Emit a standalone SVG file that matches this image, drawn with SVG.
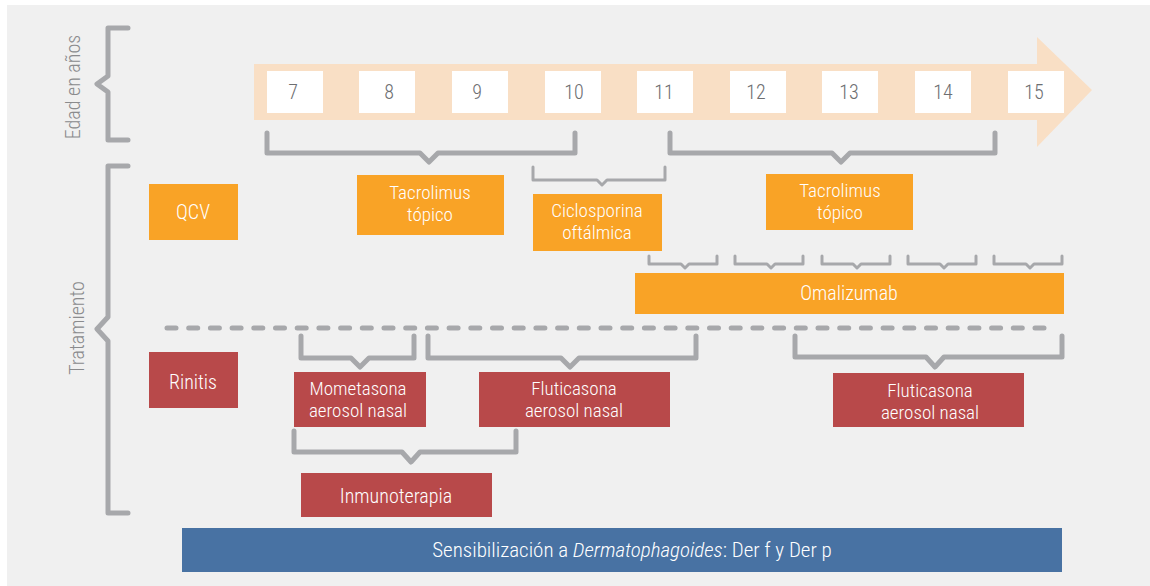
<svg xmlns="http://www.w3.org/2000/svg" width="1150" height="586" viewBox="0 0 1150 586">
<style>
.t{font-family:"Liberation Sans Narrow","Roboto Condensed","DejaVu Sans Condensed",sans-serif;font-weight:300;}
.w{fill:#ffffff;font-size:20px;text-anchor:middle;}
.w2{fill:#ffffff;font-size:19px;text-anchor:middle;}
.wb{fill:#ffffff;font-size:21px;text-anchor:middle;}
.num{fill:#6d6e71;font-size:20px;text-anchor:middle;}
.ax{fill:#8a8b8d;font-size:20px;text-anchor:middle;}
.or{fill:#f9a326;}
.rd{fill:#b8494a;}
.bx{fill:#ffffff;}
.br{fill:none;stroke:#a7a8ab;stroke-width:5;stroke-linejoin:round;stroke-linecap:round;}
.bt{fill:none;stroke:#a7a8ab;stroke-width:3;stroke-linejoin:round;stroke-linecap:round;}
</style>
<rect x="0" y="0" width="1150" height="586" fill="#ffffff"/>
<rect x="7" y="5" width="1143" height="581" fill="#f0f0f0"/>

<g id="axis-age">
<path d="M254,64 H1037 V37 L1092,90 L1037,147 V120 H254 Z" fill="#f9dfc5"/>
<text class="t ax" transform="translate(80,87) rotate(-90)">Edad en años</text>
</g>
<g id="axis-treatment">
<text class="t ax" transform="translate(84,328) rotate(-90)">Tratamiento</text>
</g>

<g id="years">
<g id="y7"><rect class="bx" x="267" y="71" width="56" height="42"/><text class="t num" x="293" y="98.5">7</text></g>
<g id="y8"><rect class="bx" x="359" y="71" width="56" height="42"/><text class="t num" x="389" y="98.5">8</text></g>
<g id="y9"><rect class="bx" x="452" y="71" width="56" height="42"/><text class="t num" x="477" y="98.5">9</text></g>
<g id="y10"><rect class="bx" x="545" y="71" width="56" height="42"/><text class="t num" x="574" y="98.5">10</text></g>
<g id="y11"><rect class="bx" x="637" y="71" width="56" height="42"/><text class="t num" x="664" y="98.5">11</text></g>
<g id="y12"><rect class="bx" x="730" y="71" width="56" height="42"/><text class="t num" x="756" y="98.5">12</text></g>
<g id="y13"><rect class="bx" x="822" y="71" width="56" height="42"/><text class="t num" x="849" y="98.5">13</text></g>
<g id="y14"><rect class="bx" x="915" y="71" width="56" height="42"/><text class="t num" x="943" y="98.5">14</text></g>
<g id="y15"><rect class="bx" x="1008" y="71" width="56" height="42"/><text class="t num" x="1034" y="98.5">15</text></g>
</g>

<g id="connectors">
<path class="br" d="M128,28 H108 V76 L97,84 L108,92 V140 H128"/>
<path class="br" d="M128,166 H108 V317 L97,329 L108,341 V513 H128"/>
<path class="br" d="M267,133 V153 H420 L429,162 L438,153 H575 V133"/>
<path class="br" d="M670,133 V153 H832 L841,162 L850,153 H995 V133"/>
<path class="bt" d="M533,167 V180 H597 L602,185 L607,180 H665 V167"/>
<path class="bt" d="M649,256 V264 H681 L685,268 L689,264 H717 V256"/>
<path class="bt" d="M735,256 V264 H767 L771,268 L775,264 H803 V256"/>
<path class="bt" d="M822,256 V264 H853 L857,268 L861,264 H890 V256"/>
<path class="bt" d="M908,256 V264 H940 L944,268 L948,264 H976 V256"/>
<path class="bt" d="M994,256 V264 H1026 L1030,268 L1034,264 H1062 V256"/>
<path fill="none" stroke="#a7a8ab" stroke-width="5" stroke-linecap="round" stroke-dasharray="9 12.7" d="M167,328 H1054"/>
<path class="br" d="M301,336 V358 H351 L360,367 L369,358 H414 V336"/>
<path class="br" d="M428,336 V358 H561 L570,367 L579,358 H696 V336"/>
<path class="br" d="M795,336 V357 H926 L935,367 L944,357 H1062 V336"/>
<path class="br" d="M294,431 V452 H402 L411,462 L420,452 H516 V431"/>
</g>

<g id="qcv"><rect class="or" x="149" y="184" width="89" height="56"/><text class="t w" x="193" y="219">QCV</text></g>
<g id="tacrolimus1"><rect class="or" x="357" y="175" width="147" height="60"/><text class="t w2" x="430" y="199">Tacrolimus</text><text class="t w2" x="430" y="221">tópico</text></g>
<g id="ciclosporina"><rect class="or" x="533" y="194" width="129" height="57"/><text class="t w2" x="597" y="217">Ciclosporina</text><text class="t w2" x="597" y="239">oftálmica</text></g>
<g id="tacrolimus2"><rect class="or" x="766" y="174" width="147" height="56"/><text class="t w2" x="840" y="197">Tacrolimus</text><text class="t w2" x="840" y="219">tópico</text></g>
<g id="omalizumab"><rect class="or" x="635" y="273" width="429" height="41"/><text class="t w" x="849" y="300">Omalizumab</text></g>

<g id="rinitis"><rect class="rd" x="149" y="352" width="89" height="56"/><text class="t w" x="193" y="389">Rinitis</text></g>
<g id="mometasona"><rect class="rd" x="294" y="372" width="132" height="55"/><text class="t w2" x="358" y="395">Mometasona</text><text class="t w2" x="358" y="417">aerosol nasal</text></g>
<g id="fluticasona1"><rect class="rd" x="479" y="372" width="191" height="55"/><text class="t w2" x="574" y="395">Fluticasona</text><text class="t w2" x="574" y="417">aerosol nasal</text></g>
<g id="fluticasona2"><rect class="rd" x="833" y="373" width="191" height="54"/><text class="t w2" x="930" y="397">Fluticasona</text><text class="t w2" x="930" y="419">aerosol nasal</text></g>
<g id="inmunoterapia"><rect class="rd" x="301" y="473" width="191" height="44"/><text class="t w" x="396" y="503">Inmunoterapia</text></g>

<g id="sensibilizacion"><rect x="182" y="528" width="880" height="44" fill="#4872a3"/><text class="t wb" x="632" y="557">Sensibilización a <tspan font-style="italic">Dermatophagoides</tspan>: Der f y Der p</text></g>
</svg>
